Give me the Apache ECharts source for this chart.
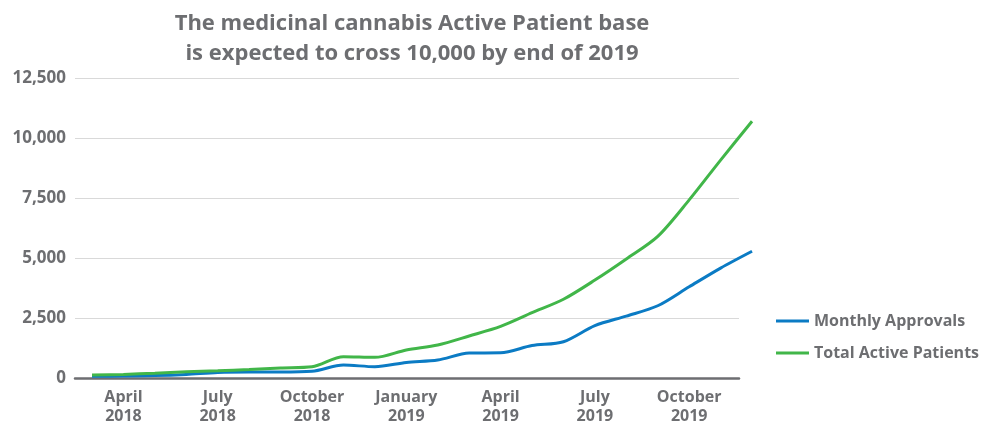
<!DOCTYPE html>
<html>
<head>
<meta charset="utf-8">
<script src="https://cdn.jsdelivr.net/npm/echarts@6/dist/echarts.min.js"></script>
<style>
html,body{margin:0;padding:0;background:#fff;}
#chart{width:1007px;height:421px;}
</style>
</head>
<body>
<div id="chart"></div>
<script>
// Months: index 0 = March 2018 ... index 21 = December 2019
const months = ["March 2018","April 2018","May 2018","June 2018","July 2018","August 2018","September 2018","October 2018","November 2018","December 2018","January 2019","February 2019","March 2019","April 2019","May 2019","June 2019","July 2019","August 2019","September 2019","October 2019","November 2019","December 2019"];
const monthlyApprovals = [70,80,100,150,230,250,250,280,540,470,650,750,1040,1050,1350,1510,2180,2580,3010,3800,4580,5280];
const totalActivePatients = [120,150,200,260,300,350,420,470,890,860,1170,1375,1750,2150,2720,3280,4080,4960,5900,7420,9080,10700];
const labelMonths = [1,4,7,10,13,16,19];
const yTicks = [0,2500,5000,7500,10000,12500];
const seriesNames = ["Monthly Approvals","Total Active Patients"];

const gray = '#6d6e71';
const font = 'Open Sans';
const xMin = -0.541;
const pxPerMonth = 31.43;
const chart = echarts.init(document.getElementById('chart'));
chart.setOption({
  animation:false,
  title:{
    text:'The medicinal cannabis Active Patient base\nis expected to cross 10,000 by end of 2019',
    left:407, top:4, textAlign:'center',
    textStyle:{fontFamily:font,fontWeight:'bold',fontSize:22,color:gray,lineHeight:30}
  },
  legend:{
    orient:'vertical', left:771, top:308, itemGap:16,
    icon:'rect', itemWidth:33, itemHeight:3,
    textStyle:{fontFamily:font,fontWeight:'bold',fontSize:16,color:gray,padding:[0,0,0,0]},
    data:seriesNames
  },
  grid:[
    {left:75,right:268,top:78,bottom:43,containLabel:false,outerBoundsMode:'none'},
    {left:75,right:254,top:78,bottom:43,containLabel:false,outerBoundsMode:'none'}
  ],
  xAxis:[{
    gridIndex:0, type:'value', min:xMin, max:xMin+664/pxPerMonth,
    axisLine:{show:true,onZero:false,lineStyle:{color:gray,width:2.5}},
    axisTick:{show:false},
    splitLine:{show:false},
    axisLabel:{
      customValues:labelMonths,
      formatter:function(v){const m=months[Math.round(v)]||'';return m.replace(' ','\n');},
      fontFamily:font,fontWeight:'bold',fontSize:16,color:gray,lineHeight:19,margin:10
    }
  },{
    gridIndex:1, type:'value', min:xMin, max:xMin+678/pxPerMonth, show:false
  }],
  yAxis:[{
    gridIndex:0, type:'value', min:yTicks[0], max:yTicks[yTicks.length-1], interval:2500,
    axisLine:{show:false},axisTick:{show:false},
    splitLine:{lineStyle:{color:'#d9d9d9',width:1}},
    axisLabel:{
      formatter:function(v){return v.toLocaleString('en-US');},
      fontFamily:font,fontWeight:'bold',fontSize:17,color:gray,margin:9
    }
  },{
    gridIndex:1, type:'value', min:yTicks[0], max:yTicks[yTicks.length-1], show:false
  }],
  series:[
    {name:seriesNames[0],type:'line',xAxisIndex:1,yAxisIndex:1,data:monthlyApprovals.map((v,i)=>[i,v]),smooth:0.3,showSymbol:false,
     lineStyle:{color:'#0b7bc4',width:3},itemStyle:{color:'#0b7bc4'}},
    {name:seriesNames[1],type:'line',xAxisIndex:1,yAxisIndex:1,data:totalActivePatients.map((v,i)=>[i,v]),smooth:0.3,showSymbol:false,
     lineStyle:{color:'#41b649',width:3},itemStyle:{color:'#41b649'}}
  ]
});
</script>
</body>
</html>
